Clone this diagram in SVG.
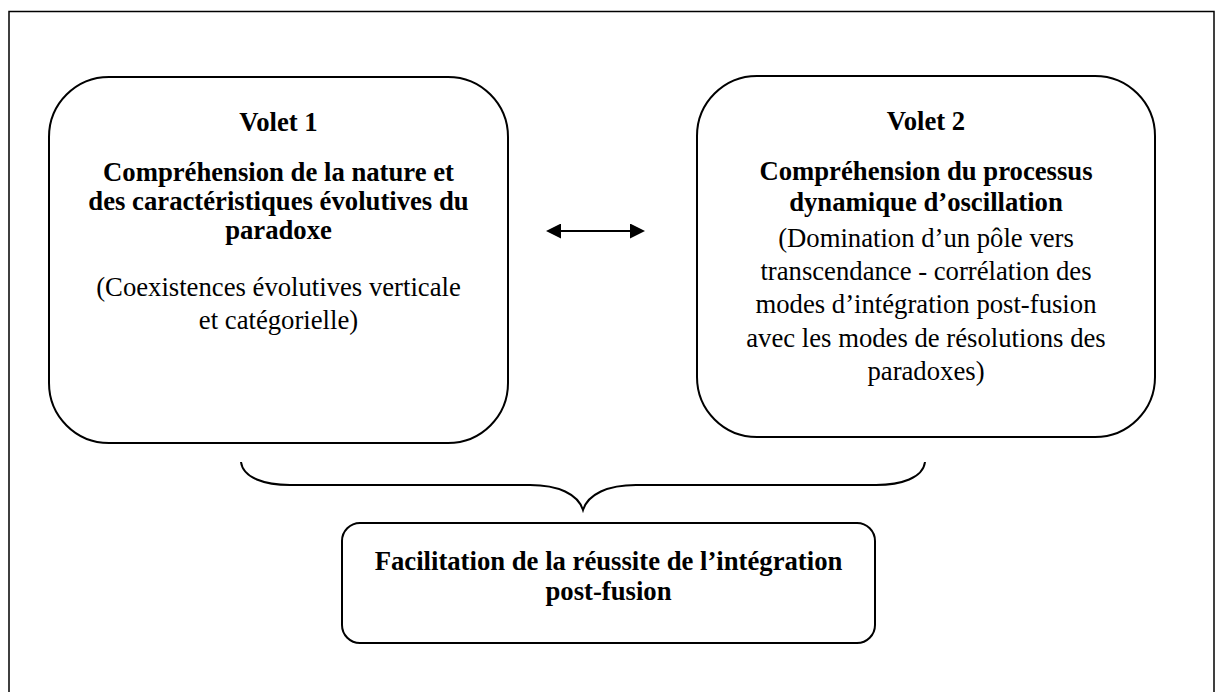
<svg xmlns="http://www.w3.org/2000/svg" width="1215" height="692" viewBox="0 0 1215 692">
<style>
.box{fill:none;stroke:#000;stroke-width:2}
.t{font-family:"Liberation Serif","Times New Roman",serif;font-size:26.7px;fill:#000;text-anchor:middle}
.b{font-weight:bold}
</style>
<defs>
<marker id="ah" viewBox="0 0 15 15" refX="12" refY="7.5" markerWidth="15" markerHeight="15" markerUnits="userSpaceOnUse" orient="auto-start-reverse">
<path d="M0,0 L15,7.5 L0,15 z" fill="#000"/>
</marker>
</defs>
<rect x="0" y="0" width="1215" height="692" fill="#fff"/>
<rect id="frame" x="9" y="11.5" width="1205" height="700" fill="none" stroke="#000" stroke-width="1.5"/>
<g id="volet1">
<rect class="box" x="49" y="77" width="459" height="366" rx="60" ry="60"/>
<text class="t b" x="278.5" y="131">Volet 1</text>
<text class="t b" x="278.5" y="181">Compréhension de la nature et</text>
<text class="t b" x="278.5" y="210">des caractéristiques évolutives du</text>
<text class="t b" x="278.5" y="239">paradoxe</text>
<text class="t" x="278.5" y="296">(Coexistences évolutives verticale</text>
<text class="t" x="278.5" y="329">et catégorielle)</text>
</g>
<g id="volet2">
<rect class="box" x="697" y="76" width="458" height="361" rx="60" ry="60"/>
<text class="t b" x="926" y="130">Volet 2</text>
<text class="t b" x="926" y="180">Compréhension du processus</text>
<text class="t b" x="926" y="211">dynamique d’oscillation</text>
<text class="t" x="926" y="247">(Domination d’un pôle vers</text>
<text class="t" x="926" y="280">transcendance - corrélation des</text>
<text class="t" x="926" y="313">modes d’intégration post-fusion</text>
<text class="t" x="926" y="347">avec les modes de résolutions des</text>
<text class="t" x="926" y="380">paradoxes)</text>
</g>
<g id="resultat">
<rect class="box" x="342" y="523" width="533" height="120" rx="18" ry="18"/>
<text class="t b" x="608.5" y="570">Facilitation de la réussite de l’intégration</text>
<text class="t b" x="608.5" y="600">post-fusion</text>
</g>
<g id="connectors" fill="none" stroke="#000" stroke-width="2">
<line x1="549" y1="231" x2="642" y2="231" marker-start="url(#ah)" marker-end="url(#ah)"/>
<path d="M241,462 C243,478 265,485 290,485 L530,485 C558,485 578,494 583,510 C588,494 608,485 636,485 L876,485 C901,485 923,478 925,462"/>
</g>
</svg>
